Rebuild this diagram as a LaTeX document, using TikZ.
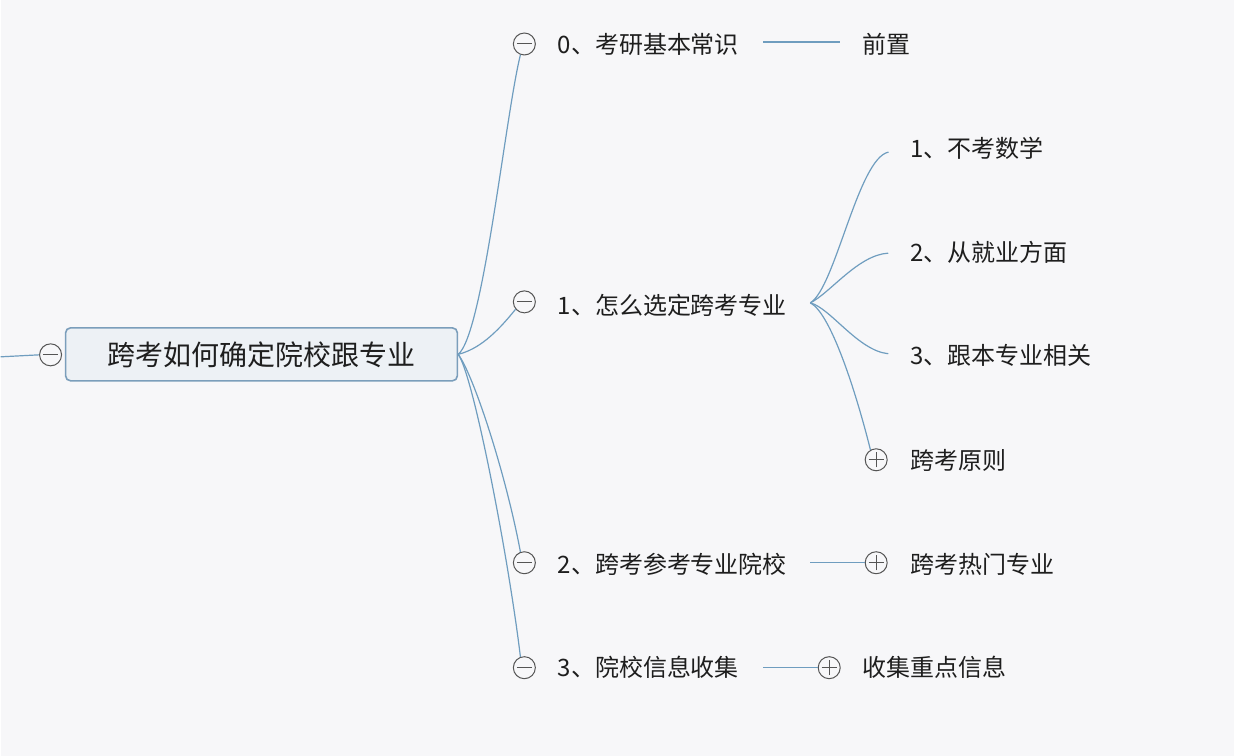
\documentclass[tikz,border=0pt]{standalone}
\usepackage{fontspec}
\setmainfont{Noto Sans CJK SC}
\usetikzlibrary{calc}
\definecolor{fondo}{HTML}{F7F7F9}
\definecolor{azul}{HTML}{6F9DBF}
\definecolor{caja}{HTML}{EDF1F5}
\definecolor{borde}{HTML}{7B9EBB}
\definecolor{texto}{HTML}{1E1E1E}
\definecolor{boton}{HTML}{555555}

\begin{document}
\begin{tikzpicture}[x=0.5pt,y=-0.5pt,
raiz/.style ={rectangle, draw=borde, line width=0.8pt, fill=caja, rounded corners=2.5pt, minimum width=196pt, minimum height=26.5pt, inner sep=0pt, font=\fontsize{14}{16}\selectfont, text=texto},
tema/.style ={anchor=west, inner sep=0pt, font=\fontsize{12}{14}\selectfont, text=texto},
menos/.style ={circle, draw=boton, fill=fondo, line width=0.5pt, minimum size=11pt, inner sep=0pt,
  path picture={\draw[boton, line width=0.5pt] ([xshift=-3.8pt]path picture bounding box.center) -- ([xshift=3.8pt]path picture bounding box.center);}},
mas/.style ={menos,
  path picture={\draw[boton, line width=0.5pt] ([xshift=-3.8pt]path picture bounding box.center) -- ([xshift=3.8pt]path picture bounding box.center)
    ([yshift=-3.8pt]path picture bounding box.center) -- ([yshift=3.8pt]path picture bounding box.center);}},
enlace/.style ={draw=azul, line width=0.6pt}]

\fill[fondo] (0,0) rectangle (1234,756);

% raiz
\coordinate (izq) at (0,357);
\draw (50,355) node[menos] (cm) {};
\draw (261,354.5) node[raiz] (Raiz) {跨考如何确定院校跟专业};
\draw[enlace] (izq) -- (cm.west);

% primer nivel
\draw (524,44) node[menos] (c0) {};
\draw (557,44) node[tema] (t0) {0、考研基本常识};
\draw (524,302) node[menos] (c1) {};
\draw (557,305) node[tema] (t1) {1、怎么选定跨考专业};
\draw (524,563) node[menos] (c2) {};
\draw (557,565) node[tema] (t2) {2、跨考参考专业院校};
\draw (524,668) node[menos] (c3) {};
\draw (557,668) node[tema] (t3) {3、院校信息收集};

\draw[enlace] (Raiz.east) .. controls +(25,-20) and +(-15,60) .. (c0.250);
\draw[enlace] (Raiz.east) .. controls +(20,-5) and +(-20,25) .. (c1.220);
\draw[enlace] (Raiz.east) .. controls +(15,20) and +(-15,-80) .. (c2.110);
\draw[enlace] (Raiz.east) .. controls +(15,20) and +(-12,-100) .. (c3.110);

% 0
\draw (862,44) node[tema] (pre) {前置};
\draw[enlace, shorten <=12pt, shorten >=11pt] (t0.east) ++(0,-2) coordinate (a0) -- (a0 -| pre.west);

% 1
\coordinate (h1) at ($(t1.east)+(23,-2)$);
\draw (910,148) node[tema] (s1) {1、不考数学};
\draw (910,252) node[tema] (s2) {2、从就业方面};
\draw (910,356) node[tema] (s3) {3、跟本专业相关};
\draw (876,460) node[mas] (p1) {};
\draw (910,461) node[tema] (s4) {跨考原则};
\draw[enlace, shorten >=11pt] (h1) .. controls +(25,-15) and +(-52,10) .. (s1.west);
\draw[enlace, shorten >=11pt] (h1) .. controls +(20,-10) and +(-52,3) .. (s2.west);
\draw[enlace, shorten >=11pt] (h1) .. controls +(20,5) and +(-52,-5) .. (s3.west);
\draw[enlace] (h1) .. controls +(20,10) and +(-15,-60) .. (p1.120);

% 2
\draw (876,563) node[mas] (p2) {};
\draw (910,565) node[tema] (s5) {跨考热门专业};
\draw[enlace, shorten <=11.5pt] (t2.east |- p2) -- (p2.west);

% 3
\draw (829,668) node[mas] (p3) {};
\draw (862,668) node[tema] (s6) {收集重点信息};
\draw[enlace, shorten <=12pt] (t3.east |- p3) -- (p3.west);

\end{tikzpicture}
\end{document}
